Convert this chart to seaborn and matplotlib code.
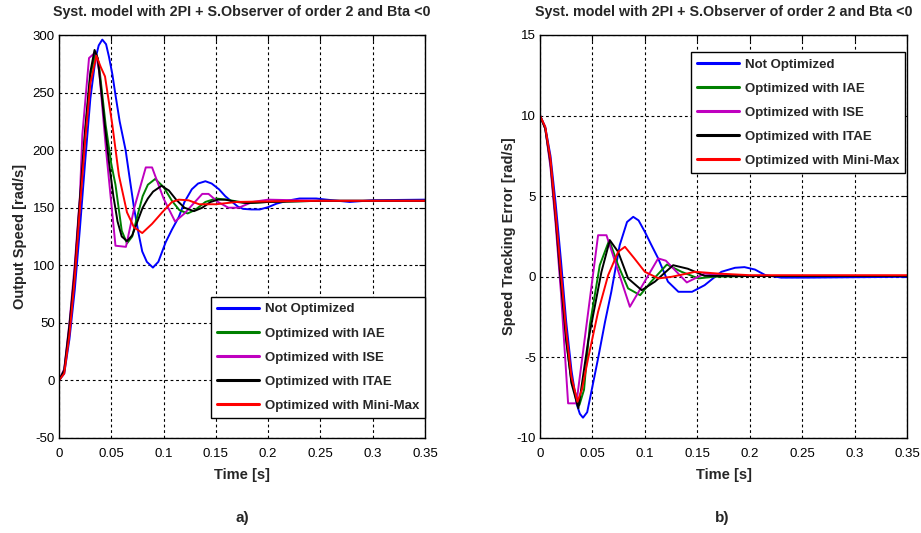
import numpy as np
import pandas as pd
import matplotlib
matplotlib.use("Agg")
import matplotlib.pyplot as plt
import seaborn as sns
from matplotlib import font_manager

series_names = ["Not Optimized", "Optimized with IAE", "Optimized with ISE",
                "Optimized with ITAE", "Optimized with Mini-Max"]
colors = ["#0000ff", "#008000", "#bf00bf", "#000000", "#ff0000"]

# ---------------- a) Output speed [rad/s] ----------------
spd_not_t = [0, 0.005, 0.010, 0.015, 0.020, 0.025, 0.030, 0.035, 0.038, 0.0414, 0.045, 0.0478, 0.051,
             0.054, 0.058, 0.0637, 0.068, 0.0717, 0.076, 0.0796, 0.084, 0.0898, 0.095, 0.102, 0.108,
             0.1146, 0.120, 0.127, 0.133, 0.140, 0.146, 0.153, 0.159, 0.1656, 0.171, 0.176, 0.184,
             0.192, 0.200, 0.208, 0.218, 0.230, 0.246, 0.256, 0.278, 0.300, 0.350]
spd_not_v = [0, 6, 36, 78, 132, 190, 245, 280, 291, 296, 292, 281, 266,
             248, 225, 200, 173, 150, 128, 112, 103, 98, 103, 120, 131,
             142, 155, 166, 171, 173, 171, 166, 160, 155, 151, 149, 148.5,
             148.5, 150.5, 153.5, 156, 158, 158, 157, 155, 156.5, 157]

spd_iae_t = [0, 0.005, 0.010, 0.015, 0.020, 0.025, 0.030, 0.035, 0.038, 0.0446, 0.050, 0.054, 0.060,
             0.065, 0.070, 0.075, 0.080, 0.085, 0.092, 0.100, 0.108, 0.115, 0.123, 0.130, 0.140,
             0.150, 0.160, 0.180, 0.200, 0.250, 0.350]
spd_iae_v = [0, 8, 45, 92, 155, 215, 265, 285, 276, 222, 188, 170, 130,
             119, 125, 143, 160, 170, 175, 168, 156, 148, 145, 148, 155,
             158, 157, 154, 155, 156, 156]

spd_ise_t = [0, 0.005, 0.010, 0.015, 0.020, 0.0223, 0.0287, 0.035, 0.0385, 0.045, 0.054, 0.064,
             0.072, 0.083, 0.089, 0.100, 0.111, 0.120, 0.137, 0.143, 0.152, 0.162, 0.172, 0.185,
             0.200, 0.250, 0.350]
spd_ise_v = [0, 10, 50, 100, 160, 213, 280, 285, 268, 200, 117, 116,
             150, 185, 185, 158, 138, 145, 162, 162, 155, 150, 150, 155,
             157, 156, 156]

spd_itae_t = [0, 0.005, 0.010, 0.015, 0.020, 0.025, 0.030, 0.034, 0.037, 0.040, 0.044, 0.048, 0.052,
              0.056, 0.060, 0.065, 0.070, 0.075, 0.080, 0.085, 0.090, 0.098, 0.105, 0.112, 0.120,
              0.129, 0.137, 0.145, 0.152, 0.159, 0.170, 0.180, 0.200, 0.250, 0.350]
spd_itae_v = [0, 9, 48, 95, 158, 218, 268, 287, 280, 255, 220, 188, 160,
              138, 125, 121, 126, 138, 150, 158, 164, 169, 165, 157, 150,
              147, 150, 155, 157, 157, 155, 154, 155, 156, 156]

spd_mm_t = [0, 0.005, 0.010, 0.015, 0.020, 0.025, 0.030, 0.0357, 0.040, 0.044, 0.051, 0.0573, 0.065,
            0.0717, 0.0796, 0.089, 0.0987, 0.108, 0.1146, 0.124, 0.134, 0.150, 0.170, 0.200, 0.250, 0.350]
spd_mm_v = [0, 6, 40, 88, 150, 208, 258, 282, 272, 264, 222, 178, 146,
            133, 128, 136, 146, 155, 157, 156.4, 153, 153, 155, 155.5, 156, 156]

# ---------------- b) Speed tracking error [rad/s] ----------------
err_not_t = [0, 0.005, 0.010, 0.015, 0.020, 0.025, 0.030, 0.035, 0.038, 0.041, 0.045, 0.050, 0.0554,
             0.062, 0.068, 0.076, 0.083, 0.0889, 0.094, 0.100, 0.106, 0.1127, 0.122, 0.132, 0.145,
             0.157, 0.165, 0.173, 0.186, 0.195, 0.205, 0.215, 0.230, 0.255, 0.350]
err_not_v = [10, 9.3, 7.5, 4.5, 1.0, -2.8, -5.8, -7.9, -8.5, -8.74, -8.4, -6.8, -5.06,
             -2.8, -0.93, 1.96, 3.4, 3.72, 3.5, 2.79, 2.0, 1.14, -0.3, -0.93, -0.93,
             -0.52, -0.1, 0.31, 0.56, 0.6, 0.45, 0.1, -0.05, -0.05, 0.0]

err_iae_t = [0, 0.005, 0.010, 0.015, 0.020, 0.025, 0.030, 0.0376, 0.042, 0.0475, 0.057, 0.066,
             0.0745, 0.084, 0.0955, 0.106, 0.121, 0.135, 0.151, 0.165, 0.200, 0.350]
err_iae_v = [10, 9.2, 7.0, 3.5, -0.5, -4.0, -6.5, -7.95, -7.0, -3.0, 0.72, 2.27,
             0.72, -0.72, -1.14, -0.3, 0.76, 0.31, -0.1, 0.0, 0.05, 0.05]

err_ise_t = [0, 0.005, 0.010, 0.015, 0.020, 0.0268, 0.0347, 0.0554, 0.0634, 0.0857, 0.1127,
             0.120, 0.140, 0.157, 0.175, 0.200, 0.350]
err_ise_v = [10, 9.2, 6.8, 3.2, -1.0, -7.85, -7.85, 2.58, 2.58, -1.86, 1.14,
             1.0, -0.35, 0.2, 0.1, 0.05, 0.05]

err_itae_t = [0, 0.005, 0.010, 0.015, 0.020, 0.025, 0.030, 0.0366, 0.0459, 0.0586, 0.0666,
              0.0745, 0.084, 0.097, 0.1096, 0.127, 0.141, 0.157, 0.180, 0.200, 0.350]
err_itae_v = [10, 9.2, 7.1, 3.6, -0.4, -3.9, -6.6, -8.16, -4.0, 0.31, 2.27,
              1.55, -0.1, -0.83, -0.3, 0.72, 0.5, 0.06, 0.05, 0.05, 0.05]

err_mm_t = [0, 0.005, 0.010, 0.015, 0.020, 0.025, 0.030, 0.0357, 0.040, 0.0459, 0.0554, 0.065, 0.0745,
            0.081, 0.090, 0.100, 0.113, 0.1255, 0.148, 0.170, 0.200, 0.350]
err_mm_v = [10, 9.3, 7.3, 3.9, 0.2, -3.4, -6.2, -7.75, -7.0, -5.06, -2.17, 0.1, 1.55,
            1.86, 1.14, 0.31, -0.1, 0.0, 0.31, 0.2, 0.1, 0.1]

x_ticks = [0, 0.05, 0.1, 0.15, 0.2, 0.25, 0.3, 0.35]
x_tick_labels = ["0", "0.05", "0.1", "0.15", "0.2", "0.25", "0.3", "0.35"]
spd_ticks = [-50, 0, 50, 100, 150, 200, 250, 300]
err_ticks = [-10, -5, 0, 5, 10, 15]

title_text = "Syst. model with 2PI + S.Observer of order 2 and Bta <0"


def long_frame(ts, vs):
    rows = []
    for name, t, v in zip(series_names, ts, vs):
        rows.append(pd.DataFrame({"t": t, "v": v, "series": name}))
    return pd.concat(rows, ignore_index=True)


spd_df = long_frame([spd_not_t, spd_iae_t, spd_ise_t, spd_itae_t, spd_mm_t],
                    [spd_not_v, spd_iae_v, spd_ise_v, spd_itae_v, spd_mm_v])
err_df = long_frame([err_not_t, err_iae_t, err_ise_t, err_itae_t, err_mm_t],
                    [err_not_v, err_iae_v, err_ise_v, err_itae_v, err_mm_v])

sns.set_style("white")
avail = {f.name for f in font_manager.fontManager.ttflist}
fam = "Liberation Sans Narrow" if "Liberation Sans Narrow" in avail else "Liberation Sans"
plt.rcParams["font.family"] = [fam, "DejaVu Sans"]
plt.rcParams["axes.unicode_minus"] = False

fig = plt.figure(figsize=(9.21, 5.33), dpi=100)
axL = fig.add_axes([59 / 921, 1 - 438 / 533, 366 / 921, 403 / 533])
axR = fig.add_axes([540 / 921, 1 - 438 / 533, 367 / 921, 403 / 533])

palette = dict(zip(series_names, colors))


def style_axis(ax, df, yticks, ylim, ylabel, ylabelpad, legend_loc, bbox):
    sns.lineplot(data=df, x="t", y="v", hue="series", hue_order=series_names, palette=palette,
                 estimator=None, sort=False, linewidth=1.4, ax=ax, legend=True)
    ax.set_xlim(0, 0.35)
    ax.set_ylim(*ylim)
    ax.set_xticks(x_ticks)
    ax.set_xticklabels(x_tick_labels)
    ax.set_yticks(yticks)
    ax.tick_params(direction="in", top=True, right=True, length=4, width=0.8,
                   labelsize=9.5, colors="black")
    ax.tick_params(axis="x", pad=7)
    ax.tick_params(axis="y", pad=3)
    ax.grid(True, color="black", linestyle=(0, (2.5, 2.5)), linewidth=0.8)
    for s in ax.spines.values():
        s.set_color("black")
        s.set_linewidth(1.0)
    ax.set_xlabel("Time [s]", fontsize=10.5, fontweight="bold", labelpad=6)
    ax.set_ylabel(ylabel, fontsize=10.5, fontweight="bold", labelpad=ylabelpad)
    ax.set_title(title_text, fontsize=10.3, fontweight="bold", pad=14)
    handles, labels = ax.get_legend_handles_labels()
    for h in handles:
        h.set_linewidth(2.2)
    leg = ax.legend(handles, labels, loc=legend_loc, bbox_to_anchor=bbox, fontsize=9.5,
                    frameon=True, fancybox=False, edgecolor="black", framealpha=1,
                    handlelength=3.2, handletextpad=0.45, labelspacing=0.9, borderpad=0.45,
                    borderaxespad=0.0)
    leg.get_frame().set_linewidth(1.0)
    for txt in leg.get_texts():
        txt.set_fontweight("bold")


style_axis(axL, spd_df, spd_ticks, (-50, 300), "Output Speed [rad/s]", 4, "lower right",
           (1.0, 0.05))
style_axis(axR, err_df, err_ticks, (-10, 15), "Speed Tracking Error [rad/s]", 0, "upper right",
           (0.995, 0.957))

fig.text(242 / 921, 1 - 518 / 533, "a)", ha="center", va="center", fontsize=11, fontweight="bold")
fig.text(722 / 921, 1 - 518 / 533, "b)", ha="center", va="center", fontsize=11, fontweight="bold")

fig.savefig("out.png", dpi=100, facecolor="white")
